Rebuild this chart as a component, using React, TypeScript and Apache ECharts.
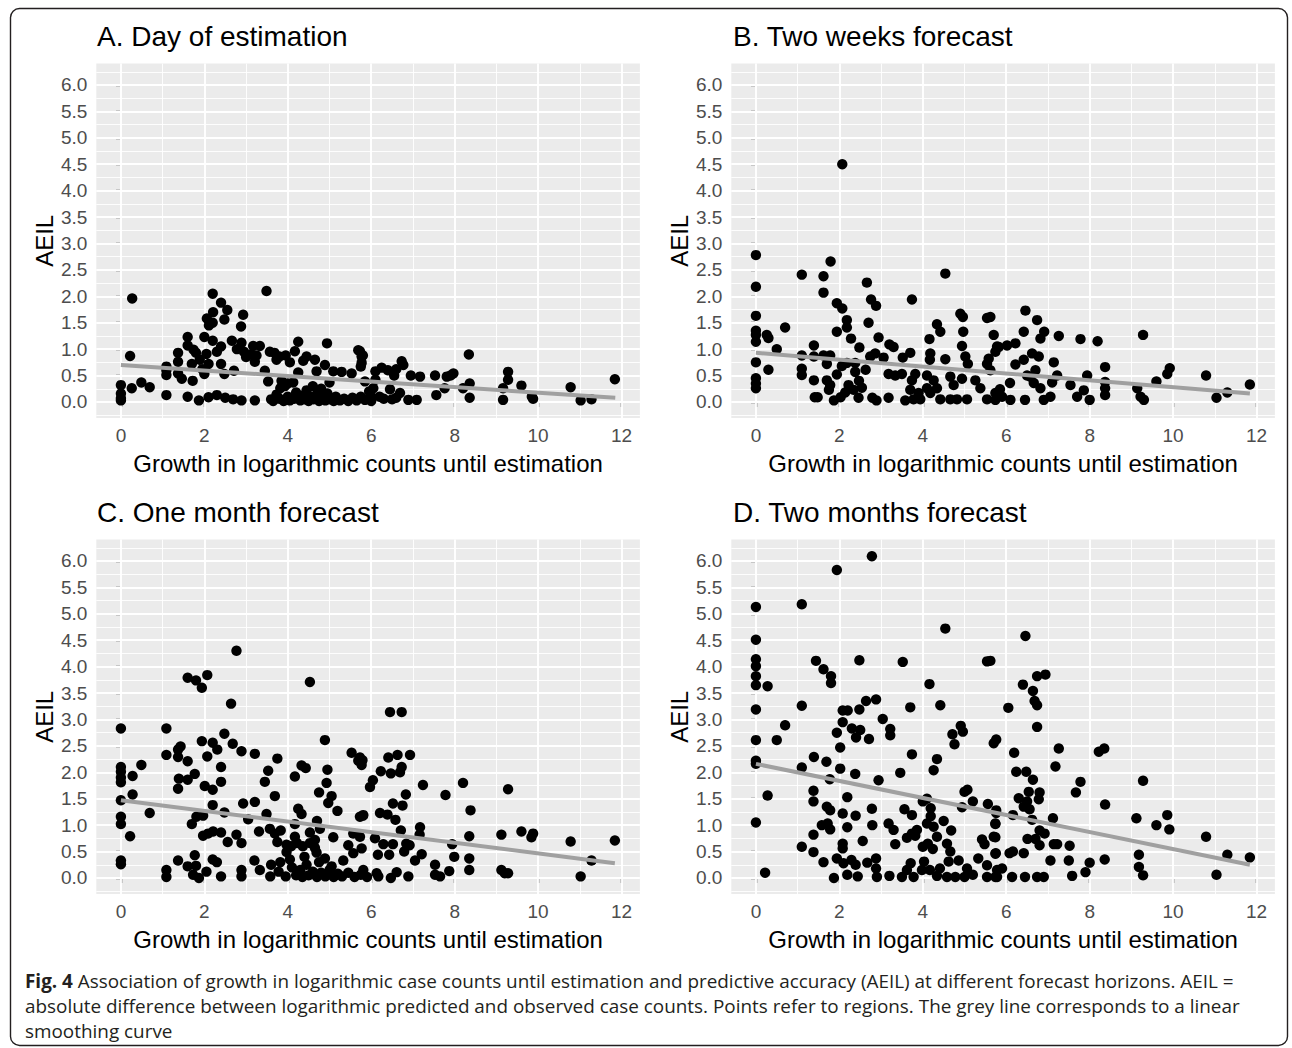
import React, { useEffect, useRef } from "react";
import * as echarts from "echarts";

// ---------- data ----------
const panelTitles = [
  "A. Day of estimation",
  "B. Two weeks forecast",
  "C. One month forecast",
  "D. Two months forecast",
];

const xTickValues = [0, 2, 4, 6, 8, 10, 12];
const xMinorValues = [1, 3, 5, 7, 9, 11];
const yTickValues = [0, 0.5, 1, 1.5, 2, 2.5, 3, 3.5, 4, 4.5, 5, 5.5, 6];
const yMinorValues = [-0.25, 0.25, 0.75, 1.25, 1.75, 2.25, 2.75, 3.25, 3.75, 4.25, 4.75, 5.25, 5.75, 6.25];

const xAxisTitle = "Growth in logarithmic counts until estimation";
const yAxisTitle = "AEIL";

const dayOfEstimation: number[][] = [
  [0, 0.32], [0, 0.16], [0, 0.07], [0, 0.03], [0.22, 0.87], [0.27, 1.96], [0.26, 0.26], [0.49, 0.37], [0.69, 0.28],
  [1.09, 0.67], [1.09, 0.51], [1.09, 0.13], [1.09, 0.6],
  [1.37, 0.93], [1.37, 0.76], [1.37, 0.54], [1.46, 0.44], [1.6, 1.23], [1.6, 1.07], [1.6, 0.1], [1.74, 0.99],
  [1.7, 0.72], [1.72, 0.4], [1.8, 0.93], [1.89, 0.8], [2.0, 1.23], [2.05, 0.91], [2.1, 0.72], [2.0, 0.53], [1.95, 0.62],
  [2.2, 2.05], [2.4, 1.88], [2.55, 1.74], [2.48, 1.56], [2.06, 1.58], [2.11, 1.45], [2.21, 1.7], [2.2, 1.5],
  [2.93, 1.65], [2.88, 1.43], [3.49, 2.1],
  [2.2, 1.16], [2.4, 1.05], [2.3, 0.95], [2.4, 0.72], [2.48, 0.53], [2.71, 0.59], [2.66, 1.16], [2.89, 1.12],
  [2.78, 1.0], [2.95, 0.95], [3.17, 1.06], [3.33, 1.06], [3.21, 0.76], [3.1, 0.9], [3.45, 0.59], [3.53, 0.39],
  [3.0, 0.85], [3.25, 0.88],
  [1.87, 0.03], [2.1, 0.09], [2.3, 0.13], [2.5, 0.08], [2.69, 0.05], [2.89, 0.03], [3.21, 0.03], [3.6, 0.05],
  [3.57, 0.95], [3.68, 0.93], [3.8, 0.86], [3.95, 0.88], [4.17, 0.96], [4.25, 1.14], [4.05, 0.75], [4.25, 0.56],
  [4.13, 0.37], [3.93, 0.3], [3.82, 0.26], [3.73, 0.14], [3.73, 0.8], [4.37, 0.78], [3.85, 0.4], [4.0, 0.35],
  [4.94, 1.11], [4.45, 0.86], [4.65, 0.8], [4.69, 0.58], [4.89, 0.7], [5.09, 0.58], [5.29, 0.57], [5.53, 0.54],
  [5.69, 0.98], [5.77, 0.86], [5.75, 0.67], [5.85, 0.39], [5.0, 0.37],
  [3.65, 0.02], [3.8, 0.06], [3.9, 0.02], [4.0, 0.1], [4.05, 0.03], [4.15, 0.06], [4.2, 0.18], [4.3, 0.03],
  [4.35, 0.12], [4.4, 0.05], [4.45, 0.22], [4.5, 0.02], [4.55, 0.1], [4.6, 0.3], [4.62, 0.05], [4.7, 0.15],
  [4.75, 0.02], [4.8, 0.25], [4.85, 0.08], [4.9, 0.03], [4.95, 0.16], [5.0, 0.05], [5.1, 0.02], [5.15, 0.1],
  [5.25, 0.03], [5.35, 0.06], [5.45, 0.02], [5.55, 0.08], [5.65, 0.03], [5.75, 0.1], [5.85, 0.04], [5.95, 0.2], [6.0, 0.02],
  [5.73, 0.96], [5.8, 0.88], [5.77, 0.74], [6.25, 0.65], [6.73, 0.77], [6.77, 0.7], [6.6, 0.62], [6.4, 0.6], [6.1, 0.58],
  [6.05, 0.26], [6.45, 0.24], [6.69, 0.17], [7.09, 0.04], [6.89, 0.04], [6.3, 0.06], [6.5, 0.05], [6.2, 0.1],
  [6.6, 0.08], [6.0, 0.1], [6.95, 0.5], [6.55, 0.5], [6.1, 0.42],
  [7.17, 0.48], [7.53, 0.5], [7.81, 0.48], [7.97, 0.54], [7.9, 0.5], [7.76, 0.26], [7.56, 0.13],
  [8.34, 0.9], [8.36, 0.35], [8.36, 0.08], [8.2, 0.26], [9.28, 0.57], [9.28, 0.42], [9.16, 0.26], [9.16, 0.04],
  [9.6, 0.31], [9.88, 0.06], [9.85, 0.1], [10.78, 0.28], [11.02, 0.03], [11.28, 0.05], [11.84, 0.43],
];

const twoWeeks: number[][] = [
  [0, 2.78], [0, 2.18], [0, 1.63], [0, 1.35], [0, 1.27], [0, 1.14], [0, 0.75], [0, 0.45], [0, 0.35], [0, 0.26],
  [0.26, 1.27], [0.3, 1.21], [0.3, 0.61], [0.5, 1.0], [0.7, 1.41],
  [1.1, 2.41], [1.1, 0.88], [1.1, 0.63], [1.1, 0.51],
  [1.39, 1.07], [1.39, 0.86], [1.39, 0.41], [1.41, 0.09], [1.48, 0.09],
  [1.62, 2.38], [1.62, 2.07], [1.79, 2.66], [1.62, 0.88], [1.7, 0.72], [1.78, 0.88], [1.7, 0.41], [1.78, 0.32], [1.75, 0.23],
  [2.07, 4.5], [1.94, 1.87], [2.07, 1.77], [2.18, 1.55], [2.18, 1.41], [1.94, 1.33], [2.28, 1.2], [2.48, 1.03],
  [1.94, 0.52], [2.06, 0.68], [2.18, 0.74], [2.38, 0.74], [2.38, 0.57],
  [1.87, 0.03], [2.03, 0.09], [2.14, 0.18], [2.22, 0.32], [2.34, 0.23], [2.47, 0.4], [2.54, 0.27], [2.46, 0.08],
  [2.66, 2.26], [2.76, 1.94], [2.88, 1.82], [2.7, 1.5], [2.94, 1.22], [2.63, 0.61], [2.74, 0.86], [2.86, 0.92], [3.06, 0.84],
  [2.79, 0.08], [2.89, 0.03], [3.18, 0.08],
  [3.2, 1.09], [3.3, 1.04], [3.18, 0.53], [3.34, 0.5], [3.5, 0.53], [3.52, 0.84], [3.7, 0.93], [3.74, 1.94],
  [3.82, 0.53], [3.74, 0.41], [3.7, 0.23], [3.58, 0.03], [3.78, 0.05], [3.94, 0.05], [3.9, 0.17],
  [4.16, 1.19], [4.18, 0.92], [4.17, 0.8], [4.34, 1.47], [4.42, 1.33], [4.54, 2.43], [4.54, 0.81],
  [4.1, 0.5], [4.26, 0.41], [4.34, 0.26], [4.1, 0.26], [4.18, 0.17], [4.42, 0.05], [4.66, 0.05], [4.82, 0.05], [5.06, 0.05],
  [4.66, 0.48], [4.74, 0.32], [4.94, 0.44],
  [4.9, 1.67], [4.96, 1.61], [4.97, 1.33], [4.94, 1.06], [5.02, 0.86], [5.08, 0.72], [5.26, 0.41], [5.38, 0.26], [5.54, 0.05],
  [5.54, 1.59], [5.7, 1.27], [5.78, 1.05], [5.58, 0.82], [5.54, 0.72], [5.74, 0.17],
  [5.62, 1.61], [5.82, 1.04], [5.74, 0.95], [6.02, 1.07], [6.22, 1.11], [6.46, 1.73], [6.74, 1.55], [6.91, 1.33],
  [6.82, 1.2], [6.42, 1.33], [6.62, 0.92], [6.78, 0.86], [6.42, 0.8], [6.22, 0.71], [5.62, 0.6], [6.09, 0.36],
  [5.85, 0.24], [6.7, 0.6], [6.5, 0.5],
  [7.26, 1.25], [7.14, 0.75], [7.22, 0.5], [7.1, 0.37], [7.78, 1.19], [8.19, 1.15], [8.37, 0.66], [7.94, 0.5],
  [7.54, 0.32], [7.86, 0.22], [7.7, 0.1], [8.0, 0.04], [8.37, 0.38], [8.37, 0.26], [8.37, 0.13],
  [6.58, 0.48], [6.66, 0.36], [6.82, 0.26], [7.06, 0.1], [6.9, 0.04], [6.45, 0.04], [6.1, 0.04], [5.9, 0.1], [5.74, 0.04],
  [9.28, 1.27], [9.14, 0.26], [9.22, 0.1], [9.3, 0.04], [9.6, 0.39], [9.86, 0.53], [9.92, 0.64],
  [10.79, 0.5], [11.04, 0.08], [11.3, 0.18], [11.84, 0.33],
];

const oneMonth: number[][] = [
  [0, 2.83], [0, 2.1], [0, 2.01], [0, 1.9], [0, 1.81], [0, 1.47], [0, 1.16], [0, 1.02], [0, 0.33], [0, 0.26],
  [0.28, 1.93], [0.28, 1.58], [0.22, 0.79], [0.49, 2.14], [0.69, 1.23],
  [1.09, 2.83], [1.09, 2.33], [1.09, 0.15], [1.09, 0.02],
  [1.37, 2.43], [1.43, 2.49], [1.37, 2.29], [1.6, 2.21], [1.39, 1.88], [1.37, 1.69], [1.6, 1.86], [1.77, 1.97],
  [1.6, 3.79], [1.8, 3.74], [1.94, 3.6], [2.07, 3.84], [2.77, 4.3], [2.64, 3.3],
  [1.94, 2.59], [2.2, 2.56], [2.31, 2.43], [2.07, 2.3], [2.48, 2.73], [2.68, 2.54], [2.89, 2.4],
  [2.4, 2.1], [2.4, 1.82], [2.01, 1.74], [2.2, 1.67], [2.2, 1.38], [2.48, 1.24],
  [1.81, 1.16], [1.97, 1.18], [1.7, 1.02], [1.97, 0.8], [2.09, 0.84], [2.21, 0.88], [2.4, 0.86],
  [2.56, 0.68], [2.77, 0.82], [2.89, 0.66], [2.93, 1.41], [3.05, 1.11], [3.21, 1.44], [3.21, 2.35],
  [3.75, 2.26], [3.53, 2.03], [3.45, 1.82], [3.69, 1.55], [3.49, 1.21], [3.57, 0.93], [3.69, 0.84], [3.83, 0.9],
  [3.75, 0.68], [3.31, 0.88],
  [1.77, 0.43], [1.37, 0.33], [1.6, 0.22], [1.8, 0.23], [2.2, 0.35], [2.3, 0.3], [1.73, 0.06], [1.87, 0.0],
  [2.05, 0.12], [2.4, 0.03], [2.89, 0.15], [2.89, 0.03], [3.2, 0.33], [3.33, 0.15],
  [3.6, 0.25], [3.58, 0.03], [3.78, 0.12], [3.82, 0.3], [3.95, 0.03], [3.97, 0.49],
  [4.17, 1.92], [4.33, 2.13], [4.43, 2.08], [4.53, 3.71], [4.89, 2.61], [4.95, 2.05], [4.93, 1.8],
  [4.75, 1.62], [5.05, 1.55], [4.97, 1.42], [4.25, 1.31], [4.33, 1.21], [4.17, 1.02], [4.7, 1.08], [4.77, 0.93],
  [5.19, 1.27], [4.53, 0.86], [4.17, 0.78], [4.22, 0.66], [3.97, 0.63], [4.08, 0.6],
  [4.36, 0.6], [4.53, 0.66], [4.65, 0.72], [4.65, 0.57], [4.69, 0.48], [5.09, 0.77], [4.89, 0.37],
  [5.33, 0.33], [5.45, 0.62], [5.57, 0.47], [5.53, 2.37], [5.69, 2.22], [5.77, 2.14], [5.73, 1.16], [5.8, 1.18],
  [5.57, 0.84], [5.73, 0.78], [5.97, 1.72],
  [4.1, 0.2], [4.2, 0.05], [4.3, 0.15], [4.35, 0.02], [4.45, 0.25], [4.5, 0.05], [4.6, 0.12], [4.7, 0.02],
  [4.8, 0.1], [4.9, 0.03], [5.0, 0.15], [5.1, 0.02], [5.2, 0.08], [5.3, 0.03], [5.45, 0.1], [5.6, 0.02],
  [5.75, 0.06], [5.9, 0.02], [4.05, 0.35], [4.4, 0.4], [4.75, 0.3], [5.05, 0.22],
  [6.45, 3.14], [6.73, 3.14], [5.73, 2.28], [5.79, 2.23], [6.41, 2.28], [6.63, 2.33], [6.93, 2.33],
  [6.73, 2.1], [6.69, 2.0], [6.47, 1.98], [6.23, 2.02], [6.04, 1.85], [7.24, 1.76], [6.83, 1.58], [6.52, 1.41],
  [6.75, 1.37], [7.78, 1.57], [8.2, 1.8], [8.38, 1.28],
  [5.81, 1.19], [6.21, 1.23], [6.39, 1.2], [6.58, 1.1], [7.17, 0.96], [7.16, 0.82], [6.71, 0.9],
  [6.09, 0.75], [6.29, 0.64], [6.52, 0.64], [6.84, 0.65], [6.92, 0.62],
  [5.77, 0.56], [6.16, 0.44], [6.43, 0.44], [6.79, 0.5], [7.21, 0.45], [7.05, 0.33],
  [7.94, 0.64], [7.99, 0.4], [8.35, 0.79], [8.35, 0.37], [8.35, 0.15],
  [7.53, 0.25], [7.53, 0.06], [7.65, 0.03], [7.87, 0.13],
  [5.81, 0.15], [6.13, 0.09], [6.17, 0.03], [6.47, 0.0], [6.61, 0.11], [6.89, 0.03],
  [9.28, 1.68], [9.12, 0.82], [9.6, 0.88], [9.88, 0.84], [9.84, 0.77],
  [9.12, 0.15], [9.2, 0.09], [9.28, 0.09], [10.78, 0.69], [11.02, 0.03], [11.28, 0.33], [11.84, 0.71],
];

const twoMonths: number[][] = [
  [0, 5.13], [0, 4.51], [0, 4.14], [0, 4.01], [0, 3.82], [0, 3.65], [0, 3.19], [0, 2.61], [0, 2.22], [0, 2.16], [0, 1.05],
  [0.28, 3.63], [0.28, 1.56], [0.22, 0.1], [0.5, 2.61], [0.7, 2.89],
  [1.1, 5.18], [1.1, 3.26], [1.1, 2.09], [1.1, 0.59],
  [1.44, 4.11], [1.62, 3.95], [1.8, 3.82], [1.8, 3.69], [1.94, 5.83], [2.78, 6.09], [2.48, 4.12],
  [1.39, 2.29], [1.69, 2.2], [1.77, 1.87], [1.38, 1.65], [1.38, 1.45], [1.38, 0.82], [1.38, 0.49], [1.62, 0.3],
  [1.7, 1.35], [1.78, 1.28], [1.58, 1.0], [1.72, 1.03], [1.78, 0.92],
  [1.94, 0.37], [2.1, 0.28], [1.87, 0.0], [2.08, 0.65], [2.08, 0.56], [2.08, 1.22], [2.19, 0.96], [2.19, 1.53],
  [2.02, 2.07], [2.02, 2.47], [1.94, 2.75], [2.08, 2.95], [2.08, 3.17], [2.2, 3.17], [2.48, 3.19],
  [2.3, 2.83], [2.4, 2.66], [2.5, 2.8], [2.64, 3.35], [2.88, 3.38], [2.71, 2.63],
  [3.04, 3.01], [3.22, 2.82], [3.22, 2.7], [2.38, 1.97], [2.94, 1.85],
  [2.39, 1.18], [2.78, 1.31], [2.79, 1.0], [2.56, 0.7],
  [2.19, 0.06], [2.29, 0.34], [2.39, 0.25], [2.44, 0.03], [2.67, 0.29], [2.88, 0.37], [2.88, 0.18], [2.9, 0.02], [3.2, 0.04],
  [3.18, 1.03], [3.3, 0.91], [3.34, 0.64], [3.46, 1.99], [3.52, 4.09], [3.7, 3.23], [3.74, 2.34],
  [3.56, 1.3], [3.74, 1.19], [3.62, 0.76], [3.74, 0.84], [3.86, 0.91], [3.82, 0.8],
  [3.5, 0.02], [3.62, 0.15], [3.78, 0.02], [3.71, 0.28], [3.98, 0.15], [4.03, 0.31],
  [4.16, 3.67], [4.42, 3.27], [4.54, 4.72], [4.34, 2.25], [4.26, 2.04],
  [4.1, 1.5], [4.0, 1.45], [4.19, 1.32], [4.19, 1.17], [4.1, 1.03], [4.26, 0.97], [4.5, 1.08], [4.68, 0.9],
  [4.34, 0.78], [4.0, 0.59], [4.12, 0.65], [4.24, 0.55],
  [4.58, 0.65], [4.66, 0.5], [4.62, 0.31], [4.86, 0.33], [5.06, 0.18],
  [4.17, 0.15], [4.41, 0.18], [4.34, 0.04], [4.58, 0.02], [4.78, 0.02], [5.0, 0.02], [5.2, 0.06],
  [4.71, 2.72], [4.91, 2.88], [4.96, 2.77], [4.76, 2.53], [5.0, 1.63], [5.07, 1.67], [5.2, 1.45], [4.94, 1.34],
  [5.54, 4.1], [5.7, 2.55], [5.76, 2.62], [5.56, 1.4], [5.76, 1.28], [5.74, 1.03], [5.7, 0.78], [5.42, 0.73],
  [5.48, 0.64], [5.74, 0.46], [5.33, 0.37], [5.54, 0.24], [5.54, 0.02], [5.74, 0.02], [5.78, 0.15],
  [5.62, 4.11], [6.46, 4.58], [6.74, 3.82], [6.94, 3.85], [6.4, 3.66], [6.64, 3.54], [6.68, 3.35], [6.74, 3.27],
  [6.05, 3.22], [6.74, 2.86], [6.19, 2.37], [7.26, 2.45], [7.18, 2.11], [6.24, 2.01], [6.48, 2.01], [6.64, 1.86],
  [7.78, 1.82], [7.67, 1.62], [8.22, 2.39], [8.35, 2.45], [8.37, 1.39],
  [6.54, 1.63], [6.8, 1.62], [6.78, 1.49], [6.3, 1.51], [6.42, 1.35], [6.56, 1.3], [6.5, 1.45],
  [5.76, 1.23], [6.16, 1.19], [6.62, 1.1], [7.12, 1.13], [5.74, 1.02], [5.74, 0.77],
  [6.8, 0.9], [6.92, 0.84], [6.51, 0.74], [6.7, 0.74], [6.8, 0.62], [7.14, 0.64], [7.22, 0.64], [7.52, 0.61],
  [5.75, 0.47], [6.08, 0.47], [6.16, 0.5], [6.42, 0.47],
  [7.06, 0.33], [7.5, 0.33], [8.0, 0.29], [8.36, 0.35], [7.9, 0.11], [7.58, 0.04],
  [5.9, 0.18], [6.14, 0.02], [6.45, 0.02], [6.74, 0.02], [6.9, 0.02], [5.78, 0.02],
  [9.12, 1.13], [9.28, 1.84], [9.6, 1.0], [9.86, 1.19], [9.91, 0.92],
  [9.18, 0.44], [9.18, 0.21], [9.28, 0.05], [10.79, 0.78], [11.04, 0.06], [11.3, 0.44], [11.84, 0.39],
];

// linear smoothing lines: end points
const fitDayOfEstimation = [[0, 0.7], [11.85, 0.08]];
const fitTwoWeeks = [[0, 0.93], [11.84, 0.16]];
const fitOneMonth = [[0, 1.47], [11.84, 0.28]];
const fitTwoMonths = [[0, 2.16], [11.84, 0.25]];

const captionLines = [
  "{b|Fig. 4} Association of growth in logarithmic case counts until estimation and predictive accuracy (AEIL) at different forecast horizons. AEIL =",
  "absolute difference between logarithmic predicted and observed case counts. Points refer to regions. The grey line corresponds to a linear",
  "smoothing curve",
];

// ---------- layout ----------
const X_MIN = -0.59;
const X_MAX = 12.44;
const Y_MIN = -0.305;
const Y_MAX = 6.405;
const FONT = "'Liberation Sans', Arial, Helvetica, sans-serif";
const CAPTION_FONT = "'Open Sans', 'Noto Sans', sans-serif";
const CAPTION_SIZE = 18.9;

const panels = [
  { title: panelTitles[0], pts: dayOfEstimation, fit: fitDayOfEstimation, left: 96.3, top: 63.6, tx: 97, ty: 39 },
  { title: panelTitles[1], pts: twoWeeks, fit: fitTwoWeeks, left: 731.3, top: 63.6, tx: 733, ty: 39 },
  { title: panelTitles[2], pts: oneMonth, fit: fitOneMonth, left: 96.3, top: 539.6, tx: 97, ty: 515 },
  { title: panelTitles[3], pts: twoMonths, fit: fitTwoMonths, left: 731.3, top: 539.6, tx: 733, ty: 515 },
];
const GRID_W = 543.6;
const GRID_H = 354.5;

function buildOption(): any {
  const grid: any[] = [];
  const xAxis: any[] = [];
  const yAxis: any[] = [];
  const series: any[] = [];
  const graphic: any[] = [];

  panels.forEach((p, i) => {
    grid.push({
      left: p.left,
      top: p.top,
      width: GRID_W,
      height: GRID_H,
      show: true,
      backgroundColor: "#EBEBEB",
      borderWidth: 0,
      containLabel: false,
    });
    xAxis.push({
      type: "value",
      gridIndex: i,
      min: X_MIN,
      max: X_MAX,
      axisLine: { show: false },
      splitLine: { show: false },
      axisTick: {
        show: true,
        length: 5,
        customValues: xTickValues,
        lineStyle: { color: "#333333", width: 1.4 },
      },
      axisLabel: {
        show: true,
        customValues: xTickValues,
        margin: 8,
        color: "#4D4D4D",
        fontSize: 19,
        fontFamily: FONT,
        formatter: (v: number) => String(v),
      },
      name: xAxisTitle,
      nameLocation: "middle",
      nameGap: 33,
      nameTextStyle: { color: "#000", fontSize: 24, fontFamily: FONT },
    });
    yAxis.push({
      type: "value",
      gridIndex: i,
      min: Y_MIN,
      max: Y_MAX,
      axisLine: { show: false },
      splitLine: { show: false },
      axisTick: {
        show: true,
        length: 5,
        customValues: yTickValues,
        lineStyle: { color: "#333333", width: 1.4 },
      },
      axisLabel: {
        show: true,
        customValues: yTickValues,
        margin: 9,
        color: "#4D4D4D",
        fontSize: 19,
        fontFamily: FONT,
        formatter: (v: number) => v.toFixed(1),
      },
      name: yAxisTitle,
      nameLocation: "middle",
      nameGap: 40,
      nameRotate: 90,
      nameTextStyle: { color: "#000", fontSize: 24, fontFamily: FONT },
    });

    const gridLines: any[] = [];
    yMinorValues.forEach((v) => gridLines.push({ yAxis: v, lineStyle: { width: 0.9 } }));
    xMinorValues.forEach((v) => gridLines.push({ xAxis: v, lineStyle: { width: 0.9 } }));
    yTickValues.forEach((v) => gridLines.push({ yAxis: v, lineStyle: { width: 1.9 } }));
    xTickValues.forEach((v) => gridLines.push({ xAxis: v, lineStyle: { width: 1.9 } }));

    series.push({
      type: "scatter",
      xAxisIndex: i,
      yAxisIndex: i,
      data: [],
      z: 1,
      silent: true,
      markLine: {
        silent: true,
        z: 1,
        symbol: ["none", "none"],
        label: { show: false },
        lineStyle: { color: "#FFFFFF", type: "solid" },
        data: gridLines,
        animation: false,
      },
    });
    series.push({
      type: "scatter",
      xAxisIndex: i,
      yAxisIndex: i,
      data: p.pts,
      symbol: "circle",
      symbolSize: 10.4,
      itemStyle: { color: "#000000", opacity: 1 },
      z: 6,
      silent: true,
    });
    series.push({
      type: "line",
      xAxisIndex: i,
      yAxisIndex: i,
      data: p.fit,
      symbol: "none",
      lineStyle: { color: "#A0A0A0", width: 4, cap: "butt" },
      z: 7,
      silent: true,
    });

    graphic.push({
      type: "text",
      left: p.tx,
      top: p.ty - 17,
      style: {
        text: p.title,
        fill: "#000",
        font: `28px ${FONT}`,
      },
    });
  });

  graphic.push({
    type: "rect",
    shape: { x: 10.5, y: 8.5, width: 1277, height: 1037, r: 9 },
    style: { fill: "none", stroke: "#231F20", lineWidth: 1.4 },
    z: 10,
  });

  captionLines.forEach((line, k) => {
    graphic.push({
      type: "text",
      x: 25,
      y: 971 + k * 25.2,
      style: {
        text: line,
        fill: "#231F20",
        font: `${CAPTION_SIZE}px ${CAPTION_FONT}`,
        rich: {
          b: { fontWeight: "bold", fontSize: CAPTION_SIZE, fontFamily: CAPTION_FONT, fill: "#231F20" },
        },
      },
    });
  });

  return {
    animation: false,
    backgroundColor: "#FFFFFF",
    grid,
    xAxis,
    yAxis,
    series,
    graphic,
  };
}

export default function App() {
  const ref = useRef<HTMLDivElement>(null);
  useEffect(() => {
    if (!ref.current) return;
    const chart = echarts.init(ref.current, undefined, { renderer: "svg" });
    chart.setOption(buildOption());
    return () => chart.dispose();
  }, []);
  return (
    <div
      ref={ref}
      style={{ position: "absolute", left: 0, top: 0, width: 1292, height: 1048, background: "#fff" }}
    />
  );
}
